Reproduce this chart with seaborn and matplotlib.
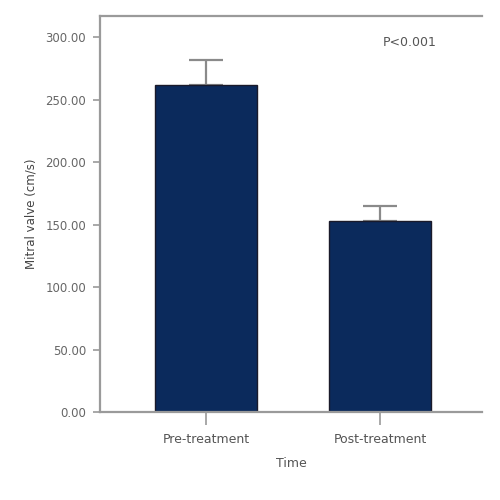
import seaborn as sns
import matplotlib.pyplot as plt
import pandas as pd

# values
groups = ['Pre-treatment', 'Post-treatment']
means = [261.5, 152.5]
sds = [20.5, 12.5]
y_ticks = [0, 50, 100, 150, 200, 250, 300]

df = pd.DataFrame({'Time': groups, 'Value': means})

sns.set_style('white')
plt.rcParams['font.family'] = ['DejaVu Sans']

fig = plt.figure(figsize=(5, 5), dpi=100)
ax = fig.add_axes([0.2, 0.176, 0.764, 0.792])

sns.barplot(data=df, x='Time', y='Value', color='#0b2a5c', width=0.59,
            edgecolor='#1a1a2a', linewidth=1.0, saturation=1, errorbar=None, ax=ax)
ax.errorbar(range(len(groups)), means, yerr=[[0, 0], sds], fmt='none',
            ecolor='#8a8a8a', elinewidth=1.6, capsize=12, capthick=1.6, zorder=0.5)

ax.set_xlim(-0.609, 1.586)
ax.set_ylim(0, 317)
ax.set_yticks(y_ticks)
ax.set_yticklabels([f'{v:.2f}' for v in y_ticks])

ax.set_xlabel('Time', fontsize=9, color='#555555', labelpad=8)
ax.set_ylabel('Mitral valve (cm/s)', fontsize=8.5, color='#444444', labelpad=6)

for s in ['left', 'bottom', 'top']:
    ax.spines[s].set_color('#9a9a9a')
    ax.spines[s].set_linewidth(1.6)
ax.spines['right'].set_visible(False)

ax.tick_params(axis='y', length=5, width=1.2, color='#9a9a9a', pad=5,
               labelsize=8.5, labelcolor='#666666', left=True)
ax.tick_params(axis='x', length=9, width=1.2, color='#9a9a9a', pad=6,
               labelsize=9, labelcolor='#555555', bottom=True)

ax.text(0.74, 0.925, 'P<0.001', transform=ax.transAxes, fontsize=9, color='#555555')

fig.savefig('out.png', dpi=100)
